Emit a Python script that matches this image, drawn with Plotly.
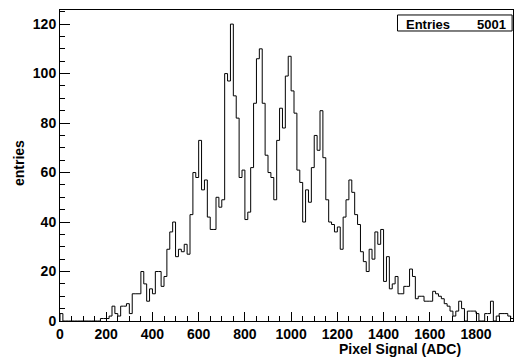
import plotly.graph_objects as go

# ---- data ----
bin_width = 12.5  # ADC per bin
counts = [
    3, 0, 0, 0, 0, 0, 0, 0, 0, 0, 0, 0, 0, 0,
    1, 1, 1, 2, 6, 3, 2, 6, 6, 7, 3, 11, 11, 11,
    20, 15, 8, 13, 11, 20, 20, 14, 18, 29, 36, 40, 26, 29, 28, 31, 27,
    43, 60, 58, 73, 53, 57, 42, 37, 37, 50, 46, 49, 100, 97, 120,
    91, 82, 58, 61, 41, 44, 62, 88, 106, 110, 88, 67, 60, 58, 49, 73, 86, 78, 99, 107,
    93, 84, 61, 56, 40, 53, 48, 62, 75, 69, 85,
    66, 49, 40, 39, 36, 38, 29, 42, 49, 57, 52, 43, 39, 28, 24, 20, 29, 25, 36, 31, 37, 16, 26, 13, 15, 18,
    11, 11, 14, 14, 21, 18, 9, 10, 10, 8, 8, 8, 12, 11, 10, 9, 7, 6, 4, 2, 4, 8, 5, 0,
    4, 4, 4, 3, 0, 0, 3, 3, 8, 0, 2, 3, 3, 3, 2, 1,
]
x_ticks = [0, 200, 400, 600, 800, 1000, 1200, 1400, 1600, 1800]
y_ticks = [0, 20, 40, 60, 80, 100, 120]
entries_label = "Entries"
entries_value = "5001"
x_title = "Pixel Signal (ADC)"
y_title = "entries"

# build step outline from the bin contents
n = len(counts)
edges = [i * bin_width for i in range(n + 1)]
xs = [edges[0]] + edges[:n] + [edges[n]]
ys = [0] + counts + [counts[-1]]

FONT = "Liberation Sans"

fig = go.Figure()
fig.add_trace(go.Scatter(
    x=xs, y=ys, mode="lines", line=dict(color="black", width=1, shape="hv"),
    hoverinfo="skip",
))

axis_common = dict(
    showgrid=False, zeroline=False, showline=True, linecolor="black",
    linewidth=1, mirror=True, ticks="inside", tickcolor="black", tickwidth=1,
    tickfont=dict(family=FONT, size=14, color="black", weight="bold"),
)

fig.update_layout(
    width=515, height=360,
    margin=dict(l=60, r=2, t=10, b=39),
    plot_bgcolor="white", paper_bgcolor="white",
    showlegend=False,
    xaxis=dict(range=[0, 1960], tickmode="array", tickvals=x_ticks,
               ticktext=[str(v) for v in x_ticks], ticklen=9,
               minor=dict(dtick=50, ticklen=5, ticks="inside", tickcolor="black", showgrid=False),
               **axis_common),
    yaxis=dict(range=[0, 125.7], tickmode="array", tickvals=y_ticks,
               ticktext=[str(v) for v in y_ticks], ticklen=10,
               minor=dict(dtick=5, ticklen=5, ticks="inside", tickcolor="black", showgrid=False),
               **axis_common),
    annotations=[
        dict(text=x_title, xref="paper", yref="paper", x=0.7506, y=-0.09,
             xanchor="center", yanchor="middle", showarrow=False,
             font=dict(family=FONT, size=14, color="black", weight="bold")),
        dict(text=y_title, xref="paper", yref="paper", x=-0.0905, y=0.508,
             xanchor="center", yanchor="middle", showarrow=False, textangle=-90,
             font=dict(family=FONT, size=14, color="black", weight="bold")),
        dict(text=entries_label, xref="paper", yref="paper", x=0.7594, y=0.9518,
             xanchor="left", yanchor="middle", showarrow=False,
             font=dict(family=FONT, size=13, color="black", weight="bold")),
        dict(text=entries_value, xref="paper", yref="paper", x=0.989, y=0.9518,
             xanchor="right", yanchor="middle", showarrow=False,
             font=dict(family=FONT, size=13, color="black", weight="bold")),
    ],
    shapes=[
        dict(type="rect", xref="paper", yref="paper", x0=0.745, x1=0.998,
             y0=0.9325, y1=0.984, line=dict(color="black", width=1),
             fillcolor="white", layer="above"),
    ],
)

fig.write_html("out.html", config={"displayModeBar": False},
               post_script="document.body.style.margin='0';document.body.style.padding='0';")
